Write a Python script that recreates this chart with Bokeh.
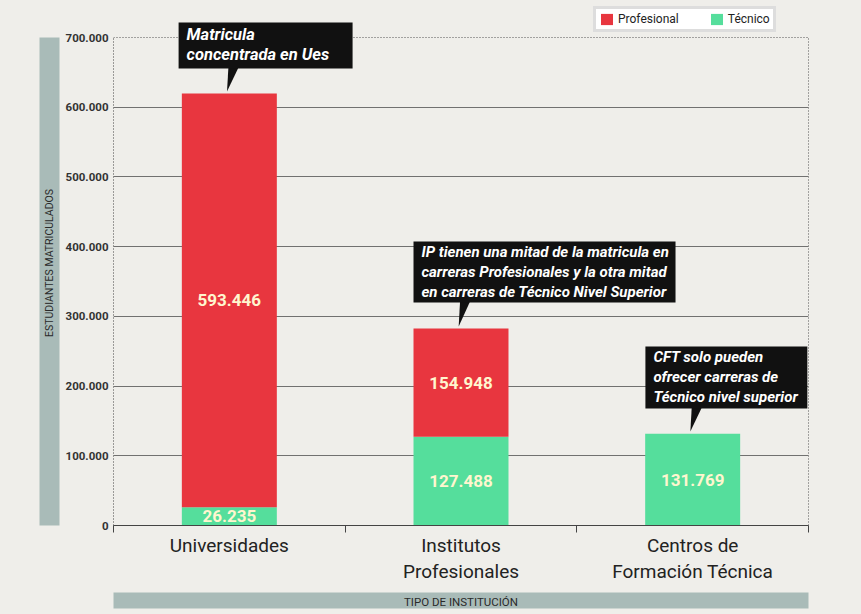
from bokeh.plotting import figure
from bokeh.models import (Range1d, FixedTicker, BoxAnnotation, Label, Legend,
                          LegendItem, ColumnDataSource, LinearAxis, Grid)
from bokeh.embed import file_html
from bokeh.resources import INLINE
from bokeh.core.properties import value

# ---------------- data ----------------
categories = ["Universidades", "Institutos Profesionales", "Centros de Formación Técnica"]
category_labels = ["Universidades", "Institutos\nProfesionales", "Centros de\nFormación Técnica"]
tecnico = [26235, 127488, 131769]
profesional = [593446, 154948, 0]
series_names = ["Profesional", "Técnico"]
y_ticks = [0, 100000, 200000, 300000, 400000, 500000, 600000, 700000]
y_tick_labels = ["0", "100.000", "200.000", "300.000", "400.000", "500.000", "600.000", "700.000"]
notes = [
    "Matricula\nconcentrada en Ues",
    "IP tienen una mitad de la matricula en\ncarreras Profesionales y la otra mitad\nen carreras de Técnico Nivel Superior",
    "CFT solo pueden\nofrecer carreras  de\nTécnico nivel superior",
]
y_title = "ESTUDIANTES MATRICULADOS"
x_title = "TIPO DE INSTITUCIÓN"

# ---------------- style / layout ----------------
FONT = "Roboto"
RED = "#e8363f"
GREEN = "#55de9c"
BG = "#efeeea"
BAND = "#a9bbb8"
LABEL_COL = "#fff6cf"
BAR_WIDTH = 0.41
Y_MAX = 700000          # top of the value axis
Y_TOP = 753100          # frame extends above the axis (room for legend / notes)
# note boxes: (left, right, bottom, top) in data units
note_boxes = [(0.281, 1.032, 655500, 721500),
              (1.295, 2.426, 319900, 407400),
              (2.296, 2.995, 167800, 256800)]
note_font_sizes = ["16.5px", "15px", "15px"]

n = len(categories)
centers = [i + 0.5 for i in range(n)]
totals = [t + p_ for t, p_ in zip(tecnico, profesional)]

p = figure(width=860, height=613, output_backend="svg", toolbar_location=None,
           x_range=Range1d(0, n), y_range=Range1d(0, Y_TOP),
           min_border_left=113, min_border_right=52, min_border_top=0,
           min_border_bottom=88)
p.title.visible = False
p.background_fill_color = BG
p.border_fill_color = BG
p.outline_line_color = None

# grid
p.xgrid.visible = False
p.ygrid.ticker = FixedTicker(ticks=y_ticks[:-1])
p.ygrid.grid_line_color = "#5a5a5a"
p.ygrid.grid_line_alpha = 0.85
top_grid = Grid(dimension=1, ticker=FixedTicker(ticks=y_ticks[-1:]),
                grid_line_color="#555555", grid_line_dash="1 2")
p.add_layout(top_grid)

src = ColumnDataSource(dict(x=centers, tecnico=tecnico, profesional=profesional))
rs = p.vbar_stack(["tecnico", "profesional"], x="x", width=BAR_WIDTH,
                  color=[GREEN, RED], line_color=None, source=src)
r_tec, r_prof = rs

# value labels
lx, ly, lt = [], [], []
for i in range(n):
    if tecnico[i] > 0:
        lx.append(centers[i]); ly.append(tecnico[i] / 2)
        lt.append(f"{tecnico[i]:,}".replace(",", "."))
    if profesional[i] > 0:
        lx.append(centers[i]); ly.append(tecnico[i] + profesional[i] / 2)
        lt.append(f"{profesional[i]:,}".replace(",", "."))
p.text(x=lx, y=ly, text=lt, text_align="center", text_baseline="middle",
       text_font=value(FONT), text_font_style="bold", text_font_size="17px",
       text_color=LABEL_COL)

# main y axis
yax = p.yaxis[0]
yax.ticker = FixedTicker(ticks=y_ticks)
yax.bounds = (0, Y_MAX)
yax.major_label_overrides = {t: l for t, l in zip(y_ticks, y_tick_labels)}
yax.axis_line_color = "#444444"
yax.axis_line_dash = "1 2"
yax.major_tick_line_color = None
yax.minor_tick_line_color = None
yax.major_tick_out = 0
yax.major_label_standoff = 5
yax.major_label_text_font = FONT
yax.major_label_text_font_style = "bold"
yax.major_label_text_font_size = "11.5px"
yax.major_label_text_color = "#333333"

# main x axis
xax = p.xaxis[0]
xax.ticker = FixedTicker(ticks=centers, minor_ticks=list(range(n + 1)))
xax.major_label_overrides = {c: l for c, l in zip(centers, category_labels)}
xax.axis_line_color = "#444444"
xax.major_tick_line_color = None
xax.major_tick_out = 0
xax.major_tick_in = 0
xax.minor_tick_line_color = "#444444"
xax.minor_tick_out = 7
xax.minor_tick_in = 0
xax.major_label_standoff = 1
xax.major_label_text_font = FONT
xax.major_label_text_font_size = "19px"
xax.major_label_text_color = "#222222"
xax.major_label_text_line_height = 1.15

# dotted right border as an axis without ticks
rax = LinearAxis(ticker=FixedTicker(ticks=[]), bounds=(0, Y_MAX),
                 axis_line_color="#555555", axis_line_dash="1 2",
                 major_tick_line_color=None, minor_tick_line_color=None,
                 major_label_text_font_size="0px")
p.add_layout(rax, "right")


def spacer(size):
    # an invisible axis whose (invisible) tick length reserves room
    return LinearAxis(ticker=FixedTicker(ticks=[0]), axis_line_color=None,
                      major_tick_line_color=None, minor_tick_line_color=None,
                      major_tick_out=size, major_tick_in=0,
                      major_label_overrides={0: ""}, major_label_standoff=0,
                      major_label_text_font_size="0px")


def band(width, bounds, title, size):
    return LinearAxis(ticker=FixedTicker(ticks=[]), bounds=bounds,
                      axis_line_color=BAND, axis_line_width=width,
                      major_tick_line_color=None, minor_tick_line_color=None,
                      major_tick_out=0, major_tick_in=0,
                      major_label_text_font_size="0px",
                      axis_label=title, axis_label_standoff=-6,
                      axis_label_text_font=FONT, axis_label_text_font_style="normal",
                      axis_label_text_font_size=size,
                      axis_label_text_color="#2a2a2a")


# axis title bands (thick axis lines carrying their titles)
p.add_layout(spacer(13), "left")
p.add_layout(band(20, (0, Y_MAX), y_title, "10.5px"), "left")
p.add_layout(spacer(15), "below")
p.add_layout(band(16, (0, n), x_title, "11.5px"), "below")

# note boxes with pointers
pxs, pys = [], []
for i, (l, r, b, t) in enumerate(note_boxes):
    p.add_layout(BoxAnnotation(left=l, right=r, bottom=b, top=t,
                               fill_color="#111111", fill_alpha=1, line_color=None))
    c = centers[i]
    pxs.append([c - 0.004, c + 0.04, c - 0.01])
    pys.append([b + 2000, b + 2000, totals[i] + 3000])
    p.add_layout(Label(x=l, y=t, x_offset=8, y_offset=-2, text=notes[i],
                       text_align="left", text_baseline="top",
                       text_font=FONT, text_font_style="bold italic",
                       text_font_size=note_font_sizes[i], text_color="white",
                       text_line_height=1.1))
p.patches(xs=pxs, ys=pys, fill_color="#111111", line_color=None)

# legend
legend = Legend(items=[LegendItem(label=series_names[0], renderers=[r_prof]),
                       LegendItem(label=series_names[1], renderers=[r_tec])],
                orientation="horizontal", location=(480, 493),
                glyph_width=15, glyph_height=14, label_standoff=4, spacing=30,
                padding=3, margin=0, label_text_font=FONT,
                label_text_font_size="12px", label_text_color="#222222",
                label_height=14, background_fill_color="white",
                background_fill_alpha=1, border_line_color="#bbbbbb",
                border_line_width=3)
p.add_layout(legend)

html = file_html(p, INLINE, title="Matrícula por tipo de institución")
html = html.replace("<head>", "<head><style>body{background:%s;}</style>" % BG, 1)
open("out.html", "w").write(html)
